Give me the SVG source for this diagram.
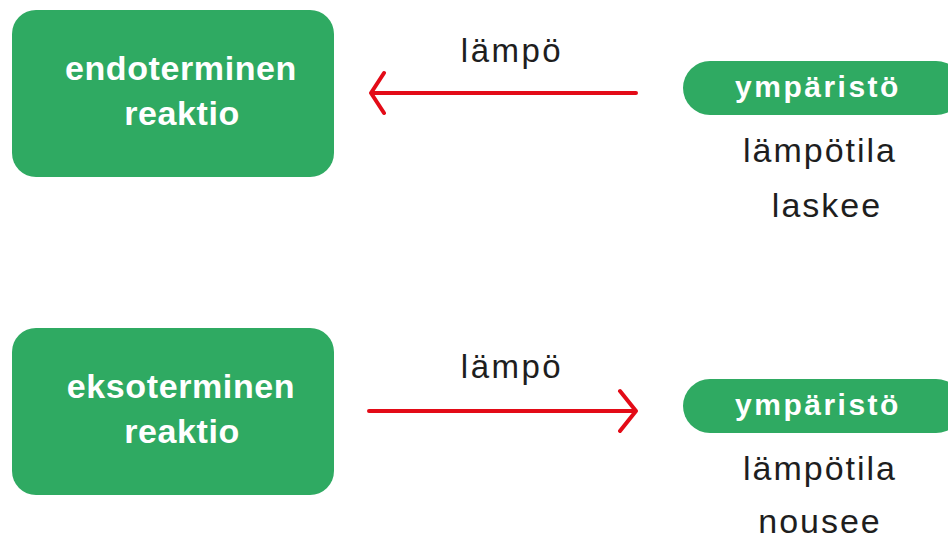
<svg xmlns="http://www.w3.org/2000/svg" width="948" height="540" viewBox="0 0 948 540">
  <style>
    .box { fill: #2faa62; }
    .label-w { fill: #ffffff; font-family: "Liberation Sans", Arial, sans-serif; font-weight: bold; text-anchor: middle; }
    .label-d { fill: #1e1e1e; font-family: "Liberation Sans", Arial, sans-serif; text-anchor: middle; }
    .flow { fill: none; stroke: #e30b17; stroke-width: 4; stroke-linecap: round; stroke-linejoin: round; }
  </style>
  <rect width="948" height="540" fill="#ffffff"/>

  <!-- endothermic reaction -->
  <g id="endo">
    <rect class="box" x="12" y="10" width="322" height="167" rx="24"/>
    <text class="label-w" x="181" y="80" font-size="34" letter-spacing="0.6">endoterminen</text>
    <text class="label-w" x="182" y="125" font-size="34" letter-spacing="0.6">reaktio</text>
  </g>

  <!-- surroundings, temperature falls -->
  <g id="env-top">
    <rect class="box" x="683" y="61" width="280" height="54" rx="27"/>
    <text class="label-w" x="818" y="97" font-size="30" letter-spacing="2.5">ympäristö</text>
    <text class="label-d" x="820" y="162" font-size="34" letter-spacing="2">lämpötila</text>
    <text class="label-d" x="827" y="217" font-size="34" letter-spacing="2">laskee</text>
  </g>

  <!-- exothermic reaction -->
  <g id="exo">
    <rect class="box" x="12" y="328" width="322" height="167" rx="24"/>
    <text class="label-w" x="181" y="398" font-size="34" letter-spacing="0.6">eksoterminen</text>
    <text class="label-w" x="182" y="443" font-size="34" letter-spacing="0.6">reaktio</text>
  </g>

  <!-- surroundings, temperature rises -->
  <g id="env-bottom">
    <rect class="box" x="683" y="379" width="280" height="54" rx="27"/>
    <text class="label-w" x="818" y="415" font-size="30" letter-spacing="2.5">ympäristö</text>
    <text class="label-d" x="820" y="480" font-size="34" letter-spacing="2">lämpötila</text>
    <text class="label-d" x="820" y="533" font-size="34" letter-spacing="2">nousee</text>
  </g>

  <!-- heat flows -->
  <g id="connectors">
    <g id="heat-in">
      <path class="flow" d="M636,93 H371 M384,73 L371,93 L384,113"/>
      <text class="label-d" x="512" y="62" font-size="33" letter-spacing="2.5">lämpö</text>
    </g>
    <g id="heat-out">
      <path class="flow" d="M369,411 H636 M620,391 L636,411 L620,431"/>
      <text class="label-d" x="512" y="378" font-size="33" letter-spacing="2.5">lämpö</text>
    </g>
  </g>
</svg>
